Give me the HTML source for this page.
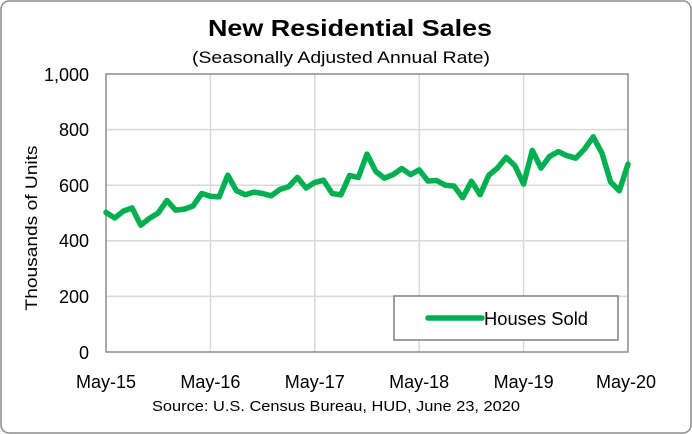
<!DOCTYPE html>
<html><head><meta charset="utf-8"><style>
html,body{margin:0;padding:0;background:#fff;}
svg{display:block;font-family:"Liberation Sans",sans-serif;}
</style></head><body>
<svg width="692" height="434" viewBox="0 0 692 434" xmlns="http://www.w3.org/2000/svg">
<rect x="1" y="1" width="690" height="432" rx="8" fill="#fff" stroke="#8c8c8c" stroke-width="1.5"/>
<text x="208" y="36" font-size="23" font-weight="bold" fill="#000" textLength="284" lengthAdjust="spacingAndGlyphs">New Residential Sales</text>
<text x="192" y="63" font-size="17" fill="#000" textLength="298" lengthAdjust="spacingAndGlyphs">(Seasonally Adjusted Annual Rate)</text>
<g stroke="#d9d9d9" stroke-width="1.5">
<line x1="106" y1="129.6" x2="628" y2="129.6"/>
<line x1="106" y1="185.2" x2="628" y2="185.2"/>
<line x1="106" y1="240.8" x2="628" y2="240.8"/>
<line x1="106" y1="296.4" x2="628" y2="296.4"/>
<line x1="210.4" y1="74" x2="210.4" y2="352"/>
<line x1="314.8" y1="74" x2="314.8" y2="352"/>
<line x1="419.2" y1="74" x2="419.2" y2="352"/>
<line x1="523.6" y1="74" x2="523.6" y2="352"/>
</g>
<rect x="106" y="74" width="522" height="278" fill="none" stroke="#8c8c8c" stroke-width="1.5"/>
<g font-size="18" fill="#000" text-anchor="end">
<text x="89" y="81">1,000</text><text x="89" y="136">800</text><text x="89" y="192">600</text>
<text x="89" y="247">400</text><text x="89" y="303">200</text><text x="89" y="359">0</text>
</g>
<text transform="translate(37,228) rotate(-90)" text-anchor="middle" font-size="17" textLength="165" lengthAdjust="spacingAndGlyphs">Thousands of Units</text>
<g font-size="18" text-anchor="middle">
<text x="106" y="388">May-15</text><text x="210.4" y="388">May-16</text><text x="314.8" y="388">May-17</text>
<text x="419.2" y="388">May-18</text><text x="523.6" y="388">May-19</text><text x="626" y="388">May-20</text>
</g>
<text x="152" y="411" font-size="15" textLength="368" lengthAdjust="spacingAndGlyphs">Source:  U.S. Census Bureau, HUD, June 23, 2020</text>
<polyline id="ln" fill="none" stroke="#00b050" stroke-width="5.5" stroke-linejoin="round" stroke-linecap="round" points=""/>
<rect x="394" y="296" width="224" height="44" fill="#fff" stroke="#7f7f7f" stroke-width="1.5"/>
<line x1="428" y1="318" x2="482" y2="318" stroke="#00b050" stroke-width="5.5" stroke-linecap="round"/>
<text x="484" y="325" font-size="18" textLength="104" lengthAdjust="spacingAndGlyphs">Houses Sold</text>
<script>
var d=[502,482,507,518,456,481,500,545,510,514,525,570,560,558,636,580,566,575,570,562,585,595,628,590,610,618,570,565,635,628,712,650,625,638,660,638,655,615,617,600,597,555,614,566,636,662,700,670,604,725,662,704,721,706,697,730,774,716,612,580,676];
var p=d.map(function(v,i){return (106+i*522/60).toFixed(1)+","+(352-v*0.278).toFixed(1);}).join(" ");
document.getElementById("ln").setAttribute("points",p);
</script>
</svg>
</body></html>
